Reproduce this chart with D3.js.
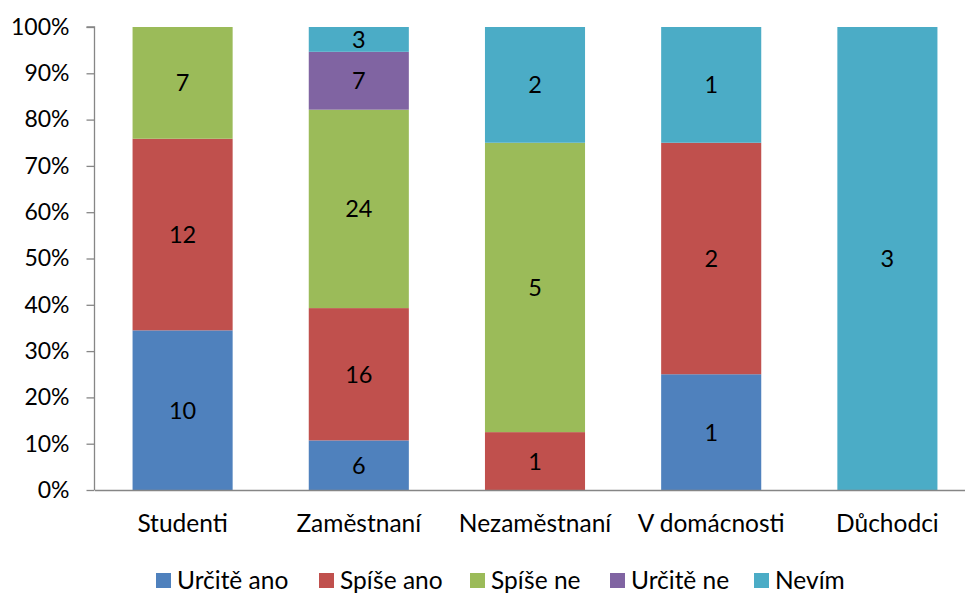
<!DOCTYPE html>
<html><head><meta charset="utf-8">
<script src="https://cdn.jsdelivr.net/npm/d3@7"></script>
<style>body{margin:0;background:#fff}svg{display:block}text{font-family:Lato,"Open Sans",sans-serif}</style>
</head><body>
<svg id="c" width="965" height="595"></svg>
<script>
const categories = ["Studenti", "Zaměstnaní", "Nezaměstnaní", "V domácnosti", "Důchodci"];
const seriesNames = ["Určitě ano", "Spíše ano", "Spíše ne", "Určitě ne", "Nevím"];
const urciteAno = [10, 6, 0, 1, 0];
const spiseAno  = [12, 16, 1, 2, 0];
const spiseNe   = [7, 24, 5, 0, 0];
const urciteNe  = [0, 7, 0, 0, 0];
const nevim     = [0, 3, 2, 1, 3];
const colors = ["#4F81BD", "#C0504D", "#9BBB59", "#8064A2", "#4BACC6"];
const yTicks = [0, 0.1, 0.2, 0.3, 0.4, 0.5, 0.6, 0.7, 0.8, 0.9, 1.0];

(function () {
const seriesValues = [urciteAno, spiseAno, spiseNe, urciteNe, nevim];
const rows = categories.map((c, i) => {
  const r = {cat: c};
  const total = d3.sum(seriesValues, s => s[i]);
  seriesNames.forEach((n, k) => { r[n] = seriesValues[k][i] / total; });
  return r;
});
const stack = d3.stack().keys(seriesNames)(rows);

const svg = d3.select("#c");
const mLeft = 94.5, mRight = 975.5, mTop = 27, mBottom = 490;
const x = d3.scaleBand().domain(categories).range([mLeft, mRight]).paddingInner(0.432).paddingOuter(0.216);
const y = d3.scaleLinear().domain([0, 1]).range([mBottom, mTop]);

stack.forEach((layer, k) => {
  const g = svg.append("g").attr("fill", colors[k]);
  layer.forEach((d, i) => {
    if (d[1] - d[0] <= 0) return;
    g.append("rect")
      .attr("x", x(categories[i]))
      .attr("width", x.bandwidth())
      .attr("y", y(d[1]))
      .attr("height", y(d[0]) - y(d[1]));
    svg.append("text")
      .attr("x", x(categories[i]) + x.bandwidth() / 2)
      .attr("y", (y(d[0]) + y(d[1])) / 2)
      .attr("dy", "0.36em")
      .attr("text-anchor", "middle")
      .attr("font-size", 23.5)
      .attr("fill", "#000")
      .text(seriesValues[k][i]);
  });
});

const yAxis = d3.axisLeft(y).tickValues(yTicks).tickFormat(d3.format(".0%")).tickSize(8).tickPadding(17);
const ya = svg.append("g").attr("transform", `translate(${mLeft},0)`).call(yAxis);
ya.select(".domain").attr("stroke", "#868686").attr("stroke-width", 1.3).attr("d", `M-8,${mTop}H0V${mBottom}`);
ya.selectAll(".tick line").attr("stroke", "#868686").attr("stroke-width", 1.3);
ya.selectAll(".tick text").attr("font-size", 23).attr("fill", "#000").style("font-family", "Lato, sans-serif");

const xAxis = d3.axisBottom(x).tickSize(0);
const xa = svg.append("g").attr("transform", `translate(0,${mBottom})`).call(xAxis);
xa.select(".domain").attr("stroke", "#868686").attr("stroke-width", 1.3);
xa.selectAll(".tick text").attr("y", 42).attr("dy", 0).attr("font-size", 24.5).attr("fill", "#000").style("font-family", "Lato, sans-serif");

const legendX = [156, 319, 470, 610, 754];
const lg = svg.append("g");
seriesNames.forEach((n, k) => {
  lg.append("rect").attr("x", legendX[k]).attr("y", 573).attr("width", 15).attr("height", 15).attr("fill", colors[k]);
  lg.append("text").attr("x", legendX[k] + 21).attr("y", 589)
    .attr("font-size", 24.5).attr("fill", "#000").text(n);
});
})();
</script>
</body></html>
